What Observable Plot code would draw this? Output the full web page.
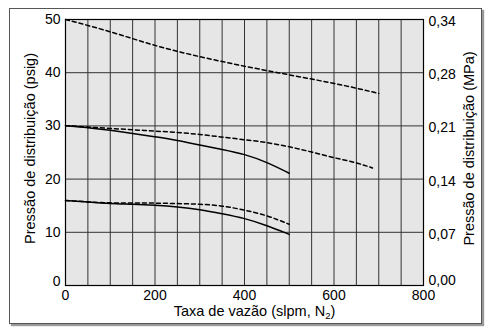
<!DOCTYPE html>
<html><head><meta charset="utf-8">
<script src="https://cdn.jsdelivr.net/npm/d3@7"></script>
<script src="https://cdn.jsdelivr.net/npm/@observablehq/plot@0.6"></script>
<style>
body{margin:0;background:#fff;}
#wrap{position:relative;width:488px;height:332px;}
#box{position:absolute;left:9px;top:8px;width:471px;height:314px;border:1px solid #555;box-shadow:2px 2px 1px #999;pointer-events:none;}
svg{font-family:"Liberation Sans",Arial,sans-serif;}
</style></head>
<body><div id="wrap"><div id="box"></div></div>
<script>
const xTicks = [0, 200, 400, 600, 800];
const xGrid = [0,50,100,150,200,250,300,350,400,450,500,550,600,650,700,750,800];
const yTicks = [0, 10, 20, 30, 40, 50];
const mpaLabels = ["0,00","0,07","0,14","0,21","0,28","0,34"];
const xLabelMain = "Taxa de vazão (slpm, N";
const xLabelSub = "2";
const xLabelEnd = ")";
const yLabelLeft = "Pressão de distribuição (psig)";
const yLabelRight = "Pressão de distribuição (MPa)";

const flowA = [0,50,100,150,200,250,300,350,400,450,500,550,600,650,700];
const dashed50 = [50,48.9,47.7,46.4,45.1,44.0,43.0,42.1,41.2,40.4,39.6,38.8,38.0,37.1,36.1];
const flowB = [0,50,100,150,200,250,300,350,400,450,500,550,600,650,686];
const dashed30 = [30.05,29.8,29.5,29.3,29.0,28.8,28.4,27.9,27.4,26.9,26.1,25.1,24.0,23.1,22.1];
const flowC = [0,50,100,150,200,250,300,350,400,450,500];
const solid30 = [30.05,29.7,29.2,28.6,27.95,27.3,26.4,25.6,24.7,23.2,21.1];
const solid16 = [16,15.7,15.4,15.3,15.1,14.8,14.3,13.5,12.65,11.3,9.6];
const dashed16 = [16,15.7,15.5,15.5,15.5,15.4,15.3,15.0,14.2,13.2,11.5];

const mk = (xs, ys) => xs.map((x, i) => ({x, y: ys[i]}));
const lineOpts = {x: "x", y: "y", curve: "basis", stroke: "#000", strokeWidth: 1.5};
const dash = {strokeDasharray: "4,3"};
const labelFont = {fontSize: 14.5, fill: "#000", textAnchor: "middle"};
const xLabelFull = xLabelMain + xLabelSub + xLabelEnd;

const chart = Plot.plot({
  width: 488, height: 332,
  marginLeft: 65, marginRight: 65, marginTop: 19, marginBottom: 47,
  style: {fontSize: "14px", fontFamily: "'Liberation Sans', Arial, sans-serif", background: "transparent", color: "#000"},
  x: {domain: [0, 800]},
  y: {domain: [0, 50]},
  marks: [
    Plot.frame({fill: "#e6e6e6"}),
    Plot.ruleX(xGrid, {stroke: "#333", strokeWidth: 1}),
    Plot.ruleY(yTicks, {stroke: "#333", strokeWidth: 1}),
    Plot.line(mk(flowA, dashed50), {...lineOpts, ...dash}),
    Plot.line(mk(flowB, dashed30), {...lineOpts, ...dash}),
    Plot.line(mk(flowC, solid30), lineOpts),
    Plot.line(mk(flowC, dashed16), {...lineOpts, ...dash}),
    Plot.line(mk(flowC, solid16), lineOpts),
    Plot.frame({stroke: "#000", strokeWidth: 1.2}),
    Plot.axisX(xTicks, {tickSize: 0, tickPadding: 5, fontSize: 14, label: null}),
    Plot.axisY(yTicks.slice(1), {anchor: "left", tickSize: 0, tickPadding: 5, fontSize: 14, label: null}),
    Plot.axisY([0], {anchor: "left", tickSize: 0, tickPadding: 5, fontSize: 14, dy: -4, label: null}),
    Plot.axisY(yTicks.slice(1), {anchor: "right", tickSize: 0, tickPadding: 5, fontSize: 14, dy: 2, tickFormat: (d) => mpaLabels[yTicks.indexOf(d)], label: null}),
    Plot.axisY([0], {anchor: "right", tickSize: 0, tickPadding: 5, fontSize: 14, dy: -5, tickFormat: (d) => mpaLabels[yTicks.indexOf(d)], label: null}),
    Plot.text([xLabelFull], {frameAnchor: "bottom", dy: 30, dx: 10, ...labelFont}),
    Plot.text([yLabelLeft], {frameAnchor: "left", dx: -35, dy: -4, rotate: -90, ...labelFont}),
    Plot.text([yLabelRight], {frameAnchor: "right", dx: 46, dy: -4, rotate: -90, ...labelFont})
  ]
});
// render the "2" of N2 as a small subscript
chart.querySelectorAll("text").forEach(t => {
  if (t.textContent === xLabelFull) {
    t.textContent = xLabelMain;
    const ns = "http://www.w3.org/2000/svg";
    const sub = document.createElementNS(ns, "tspan");
    sub.setAttribute("font-size", "9.5");
    sub.setAttribute("dy", "3");
    sub.textContent = xLabelSub;
    const end = document.createElementNS(ns, "tspan");
    end.setAttribute("dy", "-3");
    end.textContent = xLabelEnd;
    t.appendChild(sub); t.appendChild(end);
  }
});
document.getElementById("wrap").prepend(chart);
chart.style.position = "absolute"; chart.style.left = "0"; chart.style.top = "0";
</script></body></html>
